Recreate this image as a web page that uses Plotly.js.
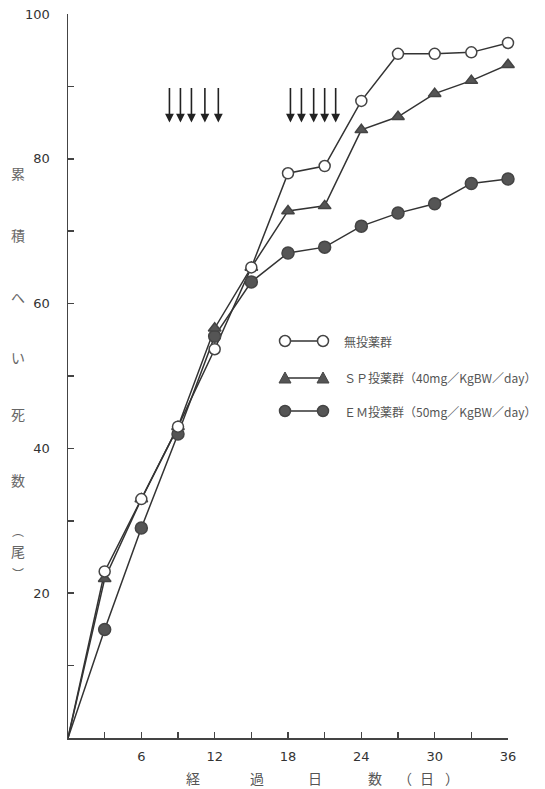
<!DOCTYPE html>
<html>
<head>
<meta charset="utf-8">
<script src="https://cdn.plot.ly/plotly-3.0.1.min.js"></script>
<style>html,body{margin:0;padding:0;background:#fff;}#chart{width:545px;height:789px;}</style>
</head>
<body>
<div id="chart"></div>
<script>
// ---- data ----
const days    = [0, 3, 6, 9, 12, 15, 18, 21, 24, 27, 30, 33, 36];
const control = [0, 23, 33, 43, 53.7, 65, 78, 79, 88, 94.5, 94.5, 94.7, 96];
const sp      = [0, 22, 33, 43, 56.6, 65, 72.8, 73.5, 84, 85.8, 89, 90.8, 93];
const em      = [0, 15, 29, 42, 55.5, 63, 67, 67.8, 70.7, 72.5, 73.8, 76.6, 77.2];
const arrowDays = [8.3, 9.2, 10.1, 11.2, 12.3, 18.2, 19.1, 20.1, 21.0, 21.9];
const arrowTop = 90;
const arrowTip = 85;
const xTickVals = [6, 12, 18, 24, 30, 36];
const yTickVals = [20, 40, 60, 80, 100];
const legendLabels = ['無投薬群', 'ＳＰ投薬群（40mg／KgBW／day）', 'ＥＭ投薬群（50mg／KgBW／day）'];
const yTitleChars = ['累', '積', 'へ', 'い', '死', '数', '︵', '尾', '︶'];
const xTitleChars = ['経', '過', '日', '数', '（', '日', '）'];

// ---- geometry of the plot area (pixels) ----
const L = 68, R = 37, T = 14, B = 51;
const W = 545 - L - R, H = 789 - T - B;
const px = X => (X - L) / W;
const py = Y => (789 - B - Y) / H;

const lineCol = '#333';
const fillCol = '#555';
const cjk = '"Noto Sans CJK JP", sans-serif';

function lineTrace(y) {
  return {x: days, y: y, mode: 'lines', type: 'scatter', cliponaxis: false,
          line: {color: lineCol, width: 1.5}, hoverinfo: 'skip', showlegend: false};
}
function markerTrace(y, symbol, fill, size) {
  return {x: days.slice(1), y: y.slice(1), mode: 'markers', type: 'scatter', cliponaxis: false,
          marker: {symbol: symbol, size: size, color: fill, line: {color: '#444', width: 1.5}},
          showlegend: false};
}

const traces = [
  lineTrace(control), lineTrace(sp), lineTrace(em),
  markerTrace(em, 'circle', fillCol, 12),
  markerTrace(sp, 'triangle-up', fillCol, 11),
  markerTrace(control, 'circle', '#fff', 11)
];

const annotations = [];
// dosing arrows
arrowDays.forEach(d => annotations.push({
  x: d, y: arrowTip, ax: d, ay: arrowTop, xref: 'x', yref: 'y', axref: 'x', ayref: 'y',
  showarrow: true, arrowhead: 2, arrowsize: 1.1, arrowwidth: 1.6, arrowcolor: '#222', text: ''
}));
// y title (vertical characters)
const yTitleY = [173, 235, 297, 357, 414, 480, 530, 551, 573];
yTitleChars.forEach((c, i) => annotations.push({
  text: c, xref: 'paper', yref: 'paper', x: px(18), y: py(yTitleY[i]),
  xanchor: 'center', yanchor: 'middle',
  showarrow: false, font: {family: cjk, size: (c === '︵' || c === '︶') ? 12 : 14, color: '#666'}
}));
// x title characters
const xTitleX = [193, 257, 315, 375, 405, 427, 452];
xTitleChars.forEach((c, i) => annotations.push({
  text: c, xref: 'paper', yref: 'paper', x: px(xTitleX[i]), y: py(778),
  xanchor: 'center', yanchor: 'middle',
  showarrow: false, font: {family: cjk, size: 14, color: '#555'}
}));

// legend (drawn by hand: marker - line - marker)
const legRowY = [341, 378, 411];
const legX0 = 285, legGap = 38;
const shapes = [];
const legSym = ['open', 'tri', 'dot'];
legRowY.forEach((Y, i) => {
  const base = {xref: 'paper', yref: 'paper', xsizemode: 'pixel', ysizemode: 'pixel',
                xanchor: px(legX0), yanchor: py(Y)};
  shapes.push(Object.assign({}, base, {type: 'line', x0: 0, x1: legGap, y0: 0, y1: 0,
                line: {color: lineCol, width: 1.5}}));
  [0, legGap].forEach(off => {
    if (legSym[i] === 'tri') {
      shapes.push(Object.assign({}, base, {type: 'path',
        path: `M${off-6},-5 L${off+6},-5 L${off},6 Z`, fillcolor: fillCol,
        line: {color: '#444', width: 1}}));
    } else {
      shapes.push(Object.assign({}, base, {type: 'circle', x0: off-5.5, x1: off+5.5, y0: -5.5, y1: 5.5,
        fillcolor: legSym[i] === 'open' ? '#fff' : fillCol, line: {color: '#444', width: 1.5}}));
    }
  });
  annotations.push({text: legendLabels[i], xref: 'paper', yref: 'paper', x: px(342), y: py(Y),
    xanchor: 'left', yanchor: 'middle', showarrow: false,
    font: {family: cjk, size: 12, color: '#555'}});
});

const layout = {
  width: 545, height: 789,
  margin: {l: L, r: R, t: T, b: B, pad: 0},
  paper_bgcolor: '#fff', plot_bgcolor: '#fff',
  showlegend: false,
  xaxis: {range: [0, 36], showgrid: false, zeroline: false, showline: true,
          linecolor: '#444', linewidth: 1.5, ticks: 'inside', ticklen: 6, tickwidth: 1.5, tickcolor: '#444',
          tickvals: xTickVals, ticklabelstandoff: 6,
          minor: {dtick: 3, tick0: 0, ticks: 'inside', ticklen: 6, tickwidth: 1.5, tickcolor: '#444', showgrid: false},
          tickfont: {family: 'DejaVu Sans', size: 13, color: '#333'}},
  yaxis: {range: [0, 100], showgrid: false, zeroline: false, showline: true,
          linecolor: '#444', linewidth: 1.5, ticks: 'inside', ticklen: 6, tickwidth: 1.5, tickcolor: '#444',
          tickvals: yTickVals, ticklabelstandoff: 14,
          minor: {dtick: 10, tick0: 0, ticks: 'inside', ticklen: 6, tickwidth: 1.5, tickcolor: '#444', showgrid: false},
          tickfont: {family: 'DejaVu Sans', size: 13, color: '#333'}},
  annotations: annotations,
  shapes: shapes
};

Plotly.newPlot('chart', traces, layout, {displayModeBar: false, staticPlot: true});
</script>
</body>
</html>
